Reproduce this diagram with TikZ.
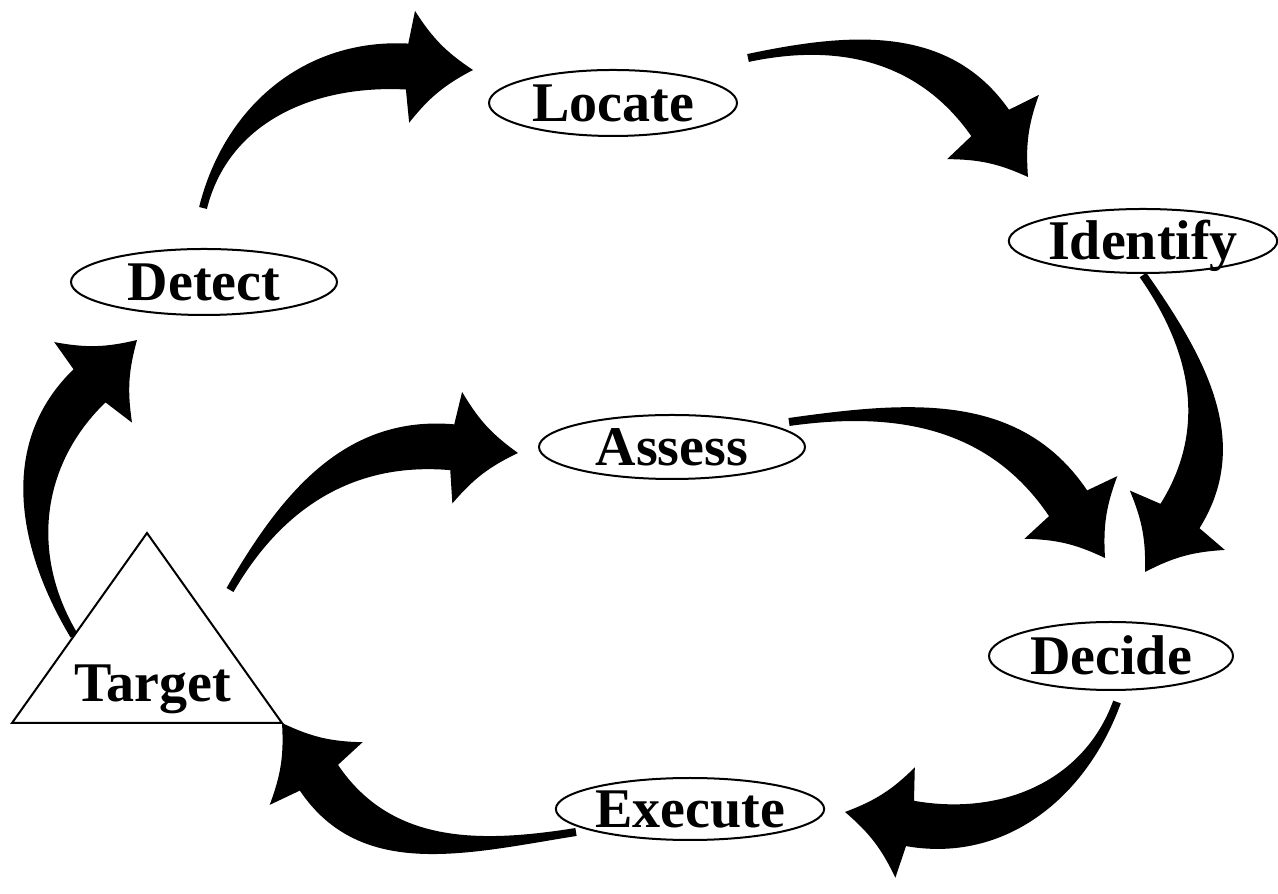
\documentclass[tikz,border=0pt]{standalone}
\usepackage{fontspec}
\setmainfont{Liberation Serif}
\usetikzlibrary{shapes.geometric, calc}
\tikzstyle{stage} = [ellipse, draw=black, line width=1pt, fill=white, inner sep=0pt, minimum width=128pt, minimum height=33pt, text height=18.5pt, text depth=0pt, font=\bfseries\fontsize{28}{30}\selectfont]
\tikzstyle{label} = [inner sep=0pt, font=\bfseries\fontsize{28}{30}\selectfont]
% fat curved arrow: tail, angle at tail, tip, angle at tip
\newcommand{\bigarrow}[4]{%
  \fill ($(#1)+(#2+90:4)$) to[out=#2,in=#4+180] ($(#3)+(#4+180:66)+(#4+90:23)$)
    -- ($(#3)+(#4+180:61)+(#4+90:56)$) to[bend right=12] (#3)
    to[bend right=12] ($(#3)+(#4+180:61)+(#4-90:56)$)
    -- ($(#3)+(#4+180:66)+(#4-90:23)$) to[out=#4+180,in=#2] ($(#1)+(#2-90:4)$) -- cycle;}

\begin{document}
\begin{tikzpicture}[x=0.5pt, y=0.5pt]
\useasboundingbox (0,0) rectangle (1278,893);
% stages
\node (locate) [stage, minimum width=124pt] at (613,790) {Locate};
\node (identify) [stage, minimum width=131pt, minimum height=32pt] at (1143,652) {Identify};
\node (detect) [stage, minimum width=133pt] at (204,611) {Detect};
\node (assess) [stage, minimum width=133pt, minimum height=32pt] at (672,446) {Assess};
\node (decide) [stage, minimum width=122pt, minimum height=34pt] at (1111,237) {Decide};
\node (execute) [stage, minimum width=124pt, minimum height=31pt] at (690,84) {Execute};
% target
\coordinate (ttop) at (147,360);
\coordinate (tleft) at (12,170);
\coordinate (tright) at (282,170);

% arrow ends
\coordinate (t1) at ($(detect)+(-1,74)$);
\coordinate (p1) at ($(locate)+(-140,33)$);
\coordinate (t2) at ($(locate)+(135,45)$);
\coordinate (p2) at ($(identify)+(-115,64)$);
\coordinate (t3) at ($(identify)+(0,-34)$);
\coordinate (p3) at ($(decide)+(34,84)$);
\coordinate (t4) at ($(decide)+(6,-46)$);
\coordinate (p4) at ($(execute)+(155,-3)$);
\coordinate (t5) at ($(execute)+(-114,-23)$);
\coordinate (t6) at ($(tleft)!0.46!(ttop)$);
\coordinate (p6) at ($(detect)+(-67,-58)$);
\coordinate (t7) at ($(ttop)+(83,-57)$);
\coordinate (p7) at ($(assess)+(-154,-6)$);
\coordinate (t8) at ($(assess)+(117,25)$);
\coordinate (p8) at ($(decide)+(-6,98)$);

\bigarrow{t1}{76}{p1}{-3}
\bigarrow{t2}{12}{p2}{-55}
\bigarrow{t3}{-55}{p3}{238}
\bigarrow{t4}{250}{p4}{170}
\bigarrow{t5}{189}{tright}{124}
\bigarrow{t6}{121}{p6}{44}
\bigarrow{t7}{60}{p7}{-5}
\bigarrow{t8}{8}{p8}{-56}

\draw [line width=1pt, fill=white] (ttop) -- (tleft) -- (tright) -- cycle;
\node (target) [label, anchor=base] at (153,191) {Target};
\end{tikzpicture}
\end{document}
